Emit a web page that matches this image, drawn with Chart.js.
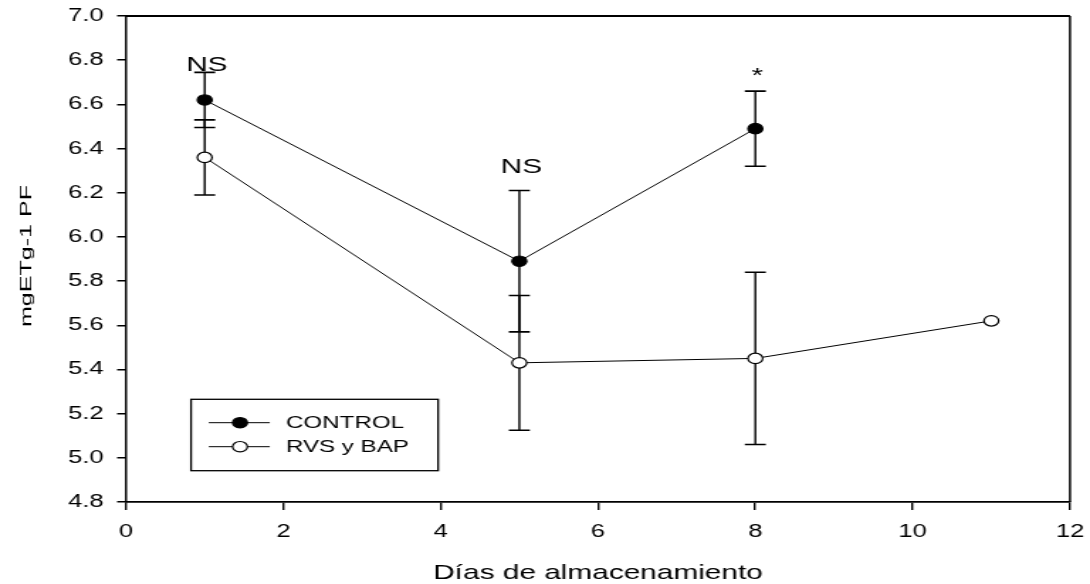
<!DOCTYPE html>
<html>
<head>
<meta charset="utf-8">
<script src="https://cdn.jsdelivr.net/npm/chart.js@4.4.1/dist/chart.umd.min.js"></script>
<style>
  html, body { margin: 0; padding: 0; background: #fff; overflow: hidden; }
  /* the chart is rendered narrower and widened horizontally */
  #wrap { width: 768px; height: 584px; transform: scaleX(1.4192708); transform-origin: 0 0; }
  #c { display: block; }
</style>
</head>
<body>
<div id="wrap"><canvas id="c" width="768" height="584" style="width:768px;height:584px"></canvas></div>
<script>
// Storage days for each series
const controlDays = [1, 5, 8];
const rvsDays = [1, 5, 8, 11];

// Means (mg ET g-1 PF) and their error bars
const controlMean = [6.62, 5.89, 6.49];
const controlErr = [0.125, 0.32, 0.17];
const rvsMean = [6.36, 5.43, 5.45, 5.62];
const rvsErr = [0.17, 0.305, 0.39, 0];

// Significance marks over each control point (anchored in data units)
const sigDays = [1, 5, 8];
const sigText = ['NS', 'NS', '*'];
const sigY = [6.749, 6.291, 6.7];

// Series names
const seriesNames = ['CONTROL', 'RVS y BAP'];

// Axis ranges and steps
const xRange = [0, 12, 2];
const yRange = [4.8, 7.0, 0.2];

const xTitle = 'Días de almacenamiento';
const yTitle = 'mgETg-1 PF';

const FONT = "'Liberation Sans', Arial, sans-serif";
const SX = 1090 / 768;   // horizontal widening applied by CSS

const toPoints = (xs, ys) => xs.map((d, i) => ({ x: d, y: ys[i] }));

// Error bars, drawn under the markers
const errorBarPlugin = {
  id: 'errorBars',
  beforeDatasetsDraw(chart) {
    const { ctx, scales: { x, y } } = chart;
    const capHalf = 7.4;
    ctx.save();
    ctx.strokeStyle = '#000';
    chart.data.datasets.forEach(ds => {
      const errs = ds.errorBars;
      if (!errs) return;
      ds.data.forEach((p, i) => {
        const e = errs[i];
        if (!e) return;
        const px = x.getPixelForValue(p.x);
        const top = y.getPixelForValue(p.y + e);
        const bot = y.getPixelForValue(p.y - e);
        ctx.lineWidth = 1.4;
        ctx.beginPath();
        ctx.moveTo(px, top);
        ctx.lineTo(px, bot);
        ctx.stroke();
        ctx.lineWidth = 1.6;
        ctx.beginPath();
        ctx.moveTo(px - capHalf, top);
        ctx.lineTo(px + capHalf, top);
        ctx.moveTo(px - capHalf, bot);
        ctx.lineTo(px + capHalf, bot);
        ctx.stroke();
      });
    });
    ctx.restore();
  }
};

// Top and right edges of the plot frame
const framePlugin = {
  id: 'frame',
  beforeDatasetsDraw(chart) {
    const { ctx, chartArea: a } = chart;
    ctx.save();
    ctx.strokeStyle = '#000';
    ctx.lineWidth = 2;
    ctx.beginPath();
    ctx.moveTo(a.left, a.top);
    ctx.lineTo(a.right, a.top);
    ctx.stroke();
    ctx.lineWidth = 1.5;
    ctx.beginPath();
    ctx.moveTo(a.right, a.top);
    ctx.lineTo(a.right, a.bottom);
    ctx.stroke();
    ctx.restore();
  }
};

// Significance labels
const sigPlugin = {
  id: 'sigLabels',
  afterDatasetsDraw(chart) {
    const { ctx, scales: { x, y } } = chart;
    ctx.save();
    ctx.fillStyle = '#000';
    ctx.font = `21px ${FONT}`;
    ctx.textAlign = 'center';
    ctx.textBaseline = 'alphabetic';
    sigText.forEach((t, i) => {
      ctx.fillText(t, x.getPixelForValue(sigDays[i]) + 1.5, y.getPixelForValue(sigY[i]));
    });
    ctx.restore();
  }
};

// Vertical axis title, set in a tall narrow face
const yTitlePlugin = {
  id: 'yTitle',
  afterDraw(chart) {
    const { ctx } = chart;
    ctx.save();
    ctx.fillStyle = '#000';
    ctx.font = `16.5px ${FONT}`;
    ctx.textAlign = 'center';
    ctx.textBaseline = 'middle';
    const w = ctx.measureText(yTitle).width;
    ctx.translate(18.6, 256);
    ctx.rotate(-Math.PI / 2);
    ctx.scale(142 / w, 1 / SX);
    ctx.fillText(yTitle, 0, 0);
    ctx.restore();
  }
};

// Boxed legend with line-and-marker samples
const boxLegendPlugin = {
  id: 'boxLegend',
  afterDraw(chart) {
    const { ctx, chartArea: a } = chart;
    const left = a.left + 45.8, right = a.left + 219.9;
    const top = a.bottom - 102.7, bottom = a.bottom - 31.3;
    ctx.save();
    ctx.strokeStyle = '#000';
    ctx.lineWidth = 1.3;
    ctx.strokeRect(left, top, right - left, bottom - top);
    chart.data.datasets.forEach((ds, i) => {
      const cy = top + 23.4 + i * 24;
      ctx.lineWidth = 1;
      ctx.beginPath();
      ctx.moveTo(left + 12.5, cy);
      ctx.lineTo(left + 55.5, cy);
      ctx.stroke();
      ctx.beginPath();
      ctx.arc(left + 34.5, cy, ds.pointRadius, 0, Math.PI * 2);
      ctx.fillStyle = ds.pointBackgroundColor;
      ctx.fill();
      ctx.lineWidth = ds.pointBorderWidth;
      ctx.stroke();
      ctx.fillStyle = '#000';
      ctx.font = `17px ${FONT}`;
      ctx.textAlign = 'left';
      ctx.textBaseline = 'middle';
      ctx.fillText(ds.label, left + 66.9, cy + 1);
    });
    ctx.restore();
  }
};

new Chart(document.getElementById('c'), {
  type: 'line',
  data: {
    datasets: [
      {
        label: seriesNames[0],
        data: toPoints(controlDays, controlMean),
        errorBars: controlErr,
        borderColor: '#000',
        borderWidth: 1,
        pointRadius: 5.2,
        pointBackgroundColor: '#000',
        pointBorderColor: '#000',
        pointBorderWidth: 1.2,
        tension: 0
      },
      {
        label: seriesNames[1],
        data: toPoints(rvsDays, rvsMean),
        errorBars: rvsErr,
        borderColor: '#000',
        borderWidth: 1,
        pointRadius: 5.2,
        pointBackgroundColor: '#fff',
        pointBorderColor: '#000',
        pointBorderWidth: 1.2,
        tension: 0
      }
    ]
  },
  options: {
    responsive: false,
    devicePixelRatio: 1,
    animation: false,
    events: [],
    layout: { padding: { top: 16, right: 14.1, left: 0, bottom: 0 } },
    plugins: {
      legend: { display: false },
      tooltip: { enabled: false }
    },
    scales: {
      x: {
        type: 'linear',
        min: xRange[0],
        max: xRange[1],
        ticks: {
          stepSize: xRange[2],
          color: '#000',
          font: { family: FONT, size: 18 },
          padding: 11,
          maxRotation: 0
        },
        grid: { drawOnChartArea: false, drawTicks: true, tickLength: 8, color: '#000', lineWidth: 1.4 },
        border: { color: '#000', width: 1.7 },
        title: {
          display: true,
          text: xTitle,
          color: '#000',
          font: { family: FONT, size: 21, lineHeight: 1 },
          padding: 0
        },
        afterFit(scale) {
          scale.height = 82;
          scale.paddingLeft = 0;
          scale.paddingRight = 0;
        }
      },
      y: {
        type: 'linear',
        min: yRange[0],
        max: yRange[1],
        ticks: {
          stepSize: yRange[2],
          color: '#000',
          font: { family: FONT, size: 18 },
          padding: 9.5,
          callback: v => Number(v).toFixed(1)
        },
        grid: { drawOnChartArea: false, drawTicks: true, tickLength: 6.3, color: '#000', lineWidth: 1.5 },
        border: { color: '#000', width: 1.5 },
        afterFit(scale) {
          scale.width = 88.8;
          scale.paddingTop = 0;
          scale.paddingBottom = 0;
        }
      }
    }
  },
  plugins: [framePlugin, errorBarPlugin, sigPlugin, yTitlePlugin, boxLegendPlugin]
});
</script>
</body>
</html>
